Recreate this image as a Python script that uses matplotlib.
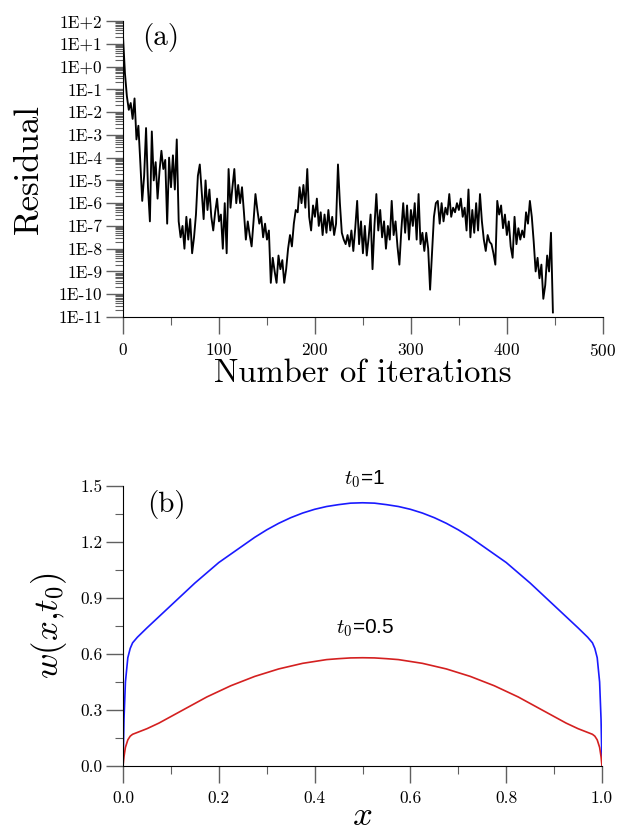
import numpy as np
import matplotlib
matplotlib.use("Agg")
import matplotlib.pyplot as plt
from matplotlib.ticker import FixedLocator, NullFormatter, MultipleLocator

# ====================================
# DATA
# ====================================

# residual history, log10 of residual, every 2nd iteration (0..448)
iterations = np.arange(0, 450, 2)
residual_log = [
    1.3, -0.3, -1.3, -1.9, -1.6, -2.3, -1.4, -3.2, -2.6, -4.2,
    -5.9, -4.8, -2.7, -5.3, -6.8, -2.85, -5.0, -4.2, -5.8, -4.6,
    -3.7, -4.5, -4.1, -6.9, -4.0, -5.3, -3.9, -5.4, -3.2, -6.8,
    -7.5, -7.0, -8.0, -6.6, -7.6, -6.7, -8.2, -7.5, -6.5, -4.8,
    -4.3, -5.5, -6.7, -5.0, -6.3, -5.4, -6.6, -7.2, -6.4, -5.8,
    -6.8, -6.5, -8.0, -6.0, -8.2, -4.5, -6.2, -5.3, -4.5, -6.0,
    -5.2, -6.0, -5.3, -6.4, -7.6, -6.8, -7.4, -7.9, -6.8, -5.6,
    -6.3, -6.9, -6.6, -7.5, -6.9, -7.6, -7.2, -9.5, -8.4, -9.0,
    -9.5, -8.3, -8.9, -8.5, -9.5, -8.9, -8.0, -7.4, -7.9, -6.9,
    -6.3, -6.4, -5.3, -6.0, -5.2, -6.2, -4.5, -6.6, -7.2, -6.1,
    -6.6, -5.8, -7.0, -6.4, -7.4, -6.5, -7.3, -6.3, -7.2, -6.6,
    -7.4, -6.9, -4.3, -6.0, -7.3, -7.6, -7.8, -7.4, -7.9, -7.2,
    -8.1, -7.1, -5.9, -7.8, -6.8, -8.2, -7.0, -8.3, -7.5, -6.5,
    -8.9, -7.0, -5.6, -7.2, -6.3, -7.5, -6.8, -8.0, -7.0, -7.6,
    -5.9, -7.4, -6.8, -7.9, -8.7, -7.2, -6.0, -7.3, -6.1, -7.6,
    -6.3, -7.0, -6.0, -7.6, -5.6, -7.8, -7.3, -8.1, -7.3, -8.0,
    -9.8, -8.2, -6.6, -6.0, -5.9, -6.9, -6.0, -6.8, -6.2, -6.5,
    -5.6, -6.6, -6.2, -6.4, -6.0, -6.3, -5.8, -6.6, -6.2, -7.2,
    -5.4, -7.5, -6.3, -7.3, -6.0, -7.2, -5.6, -6.8, -7.6, -8.1,
    -7.4, -7.7, -7.8, -8.2, -8.7, -5.9, -6.5, -6.1, -7.1, -6.5,
    -7.4, -6.8, -7.9, -8.4, -6.6, -7.8, -7.1, -7.6, -7.2, -7.5,
    -6.4, -6.9, -5.9, -6.6, -7.7, -9.0, -8.4, -9.3, -8.7, -10.2,
    -9.6, -8.3, -9.0, -7.3, -10.8,
]

res_ticks = [1e2, 1e1, 1e0, 1e-1, 1e-2, 1e-3, 1e-4, 1e-5, 1e-6, 1e-7,
             1e-8, 1e-9, 1e-10, 1e-11]
res_tick_labels = ["1E+2", "1E+1", "1E+0", "1E-1", "1E-2", "1E-3", "1E-4",
                   "1E-5", "1E-6", "1E-7", "1E-8", "1E-9", "1E-10", "1E-11"]

# solution profiles w(x, t0)
x_vals = [0.0, 0.002, 0.005, 0.01, 0.015, 0.02, 0.03, 0.05, 0.075, 0.1,
          0.125, 0.15, 0.175, 0.2, 0.225, 0.25, 0.275, 0.3, 0.325, 0.35,
          0.375, 0.4, 0.425, 0.45, 0.475, 0.5,
          0.525, 0.55, 0.575, 0.6, 0.625, 0.65, 0.675, 0.7, 0.725, 0.75,
          0.775, 0.8, 0.825, 0.85, 0.875, 0.9, 0.925, 0.95, 0.97, 0.98,
          0.985, 0.99, 0.995, 0.998, 1.0]
w_t1 = [0.0, 0.25, 0.45, 0.58, 0.63, 0.66, 0.69, 0.74, 0.80, 0.86,
        0.92, 0.98, 1.035, 1.09, 1.135, 1.18, 1.225, 1.265, 1.30, 1.33,
        1.355, 1.375, 1.39, 1.40, 1.408, 1.41,
        1.408, 1.40, 1.39, 1.375, 1.355, 1.33, 1.30, 1.265, 1.225, 1.18,
        1.135, 1.09, 1.035, 0.98, 0.92, 0.86, 0.80, 0.74, 0.69, 0.66,
        0.63, 0.58, 0.45, 0.25, 0.0]
w_t05 = [0.0, 0.05, 0.10, 0.14, 0.16, 0.17, 0.18, 0.20, 0.23, 0.265,
         0.30, 0.335, 0.37, 0.40, 0.43, 0.455, 0.48, 0.50, 0.52, 0.535,
         0.55, 0.56, 0.57, 0.575, 0.579, 0.58,
         0.579, 0.575, 0.57, 0.56, 0.55, 0.535, 0.52, 0.50, 0.48, 0.455,
         0.43, 0.40, 0.37, 0.335, 0.30, 0.265, 0.23, 0.20, 0.18, 0.17,
         0.16, 0.14, 0.10, 0.05, 0.0]

# ====================================
# STYLE
# ====================================

plt.rcParams["font.family"] = ["cmr10", "DejaVu Serif"]
plt.rcParams["mathtext.fontset"] = "cm"
plt.rcParams["axes.unicode_minus"] = False
plt.rcParams["axes.formatter.use_mathtext"] = True

tick_col = "#606060"
sans = ["Liberation Sans", "DejaVu Sans"]

fig = plt.figure(figsize=(6.17, 8.32), dpi=100)

# ====================================
# (a) RESIDUAL
# ====================================

ax1 = fig.add_axes([0.1994, 0.619, 0.7776, 0.3557])
ax1.plot(iterations, 10.0 ** np.array(residual_log), color="black", lw=1.35)
ax1.set_yscale("log")
ax1.set_xlim(0, 500)
ax1.set_ylim(1e-11, 1e2)
ax1.set_yticks(res_ticks)
ax1.set_yticklabels(res_tick_labels)
ax1.yaxis.set_minor_locator(FixedLocator(
    [m * 10.0 ** e for e in range(-11, 2) for m in range(2, 10)]))
ax1.yaxis.set_minor_formatter(NullFormatter())
ax1.xaxis.set_major_locator(MultipleLocator(100))
ax1.xaxis.set_minor_locator(MultipleLocator(50))

for s in ["top", "right"]:
    ax1.spines[s].set_visible(False)
ax1.tick_params(axis="both", which="major", direction="out", length=12,
                width=1.0, color=tick_col, labelsize=12.5, pad=3)
ax1.tick_params(axis="both", which="minor", direction="out", length=6,
                width=0.8, color=tick_col)
ax1.tick_params(axis="x", which="major", pad=6)

ax1.set_ylabel("Residual", fontsize=25, labelpad=10)
ax1.set_xlabel("Number of iterations", fontsize=23.5, labelpad=0)
ax1.text(0.04, 0.995, "(a)", transform=ax1.transAxes, fontsize=21,
         va="top", ha="left")

# ====================================
# (b) PROFILES
# ====================================

ax2 = fig.add_axes([0.1994, 0.0793, 0.7763, 0.3366])
ax2.plot(x_vals, w_t1, color="#1a1aff", lw=1.2)
ax2.plot(x_vals, w_t05, color="#d42020", lw=1.2)
ax2.set_xlim(0, 1.0)
ax2.set_ylim(0, 1.5)
ax2.xaxis.set_major_locator(MultipleLocator(0.2))
ax2.xaxis.set_minor_locator(MultipleLocator(0.1))
ax2.yaxis.set_major_locator(MultipleLocator(0.3))
ax2.yaxis.set_minor_locator(MultipleLocator(0.15))
ax2.xaxis.set_major_formatter(plt.FuncFormatter(lambda v, p: "%.1f" % v))
ax2.yaxis.set_major_formatter(plt.FuncFormatter(lambda v, p: "%.1f" % v))

for s in ["top", "right"]:
    ax2.spines[s].set_visible(False)
ax2.tick_params(axis="both", which="major", direction="out", length=12,
                width=1.0, color=tick_col, labelsize=12.5, pad=3)
ax2.tick_params(axis="both", which="minor", direction="out", length=6,
                width=0.8, color=tick_col)
ax2.tick_params(axis="x", which="major", pad=6)

ax2.set_ylabel(r"$w(x{,}t_0)$", fontsize=25, labelpad=8)
ax2.set_xlabel(r"$x$", fontsize=25, labelpad=-4)
ax2.text(0.05, 0.985, "(b)", transform=ax2.transAxes, fontsize=21,
         va="top", ha="left")

ax2.text(0.505, 1.48, r"$t_0$=1", fontsize=15, ha="center", va="bottom",
         family=sans, clip_on=False)
ax2.text(0.505, 0.68, r"$t_0$=0.5", fontsize=15, ha="center", va="bottom",
         family=sans)

fig.savefig("out.png", dpi=100)
